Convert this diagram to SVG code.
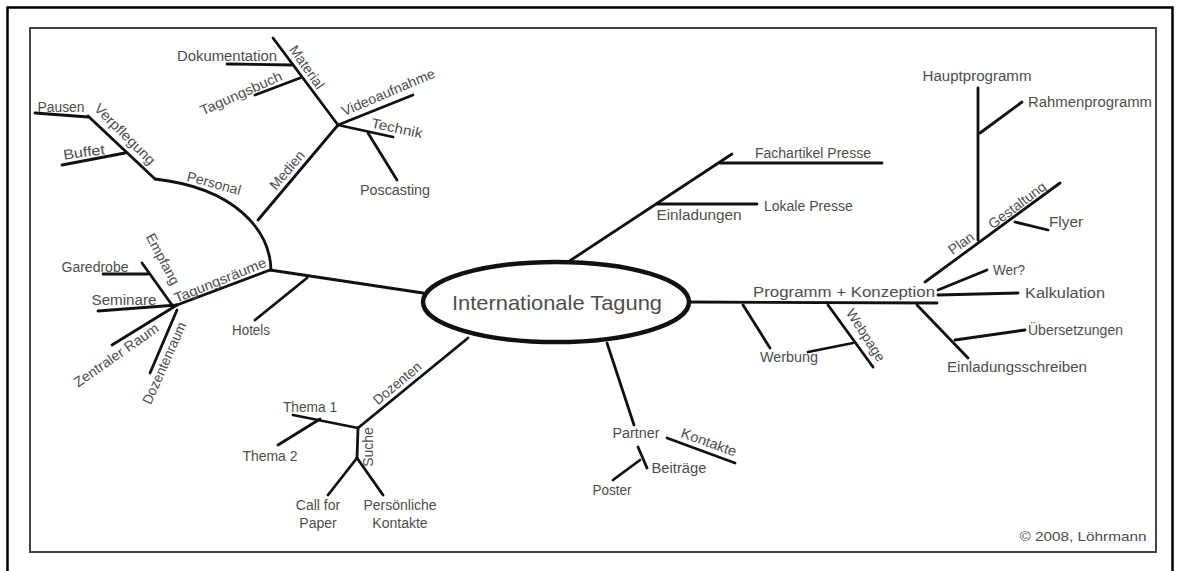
<svg xmlns="http://www.w3.org/2000/svg" width="1179" height="571" viewBox="0 0 1179 571">
<style>
.t{font-family:"Liberation Sans",Arial,sans-serif;font-size:14px;fill:#4d4d4d;text-anchor:middle}
.s{text-anchor:start}
.c{fill:none;stroke:#111;stroke-width:2.8;stroke-linecap:round}
</style>
<rect width="1179" height="571" fill="#fff"/>
<rect x="7.5" y="7.5" width="1165" height="590" fill="none" stroke="#000" stroke-width="2.5"/>
<rect x="30" y="28" width="1126" height="524" fill="none" stroke="#444" stroke-width="2"/>
<g id="connectors">
<path class="c" d="M423,293 L270,270"/>
<path class="c" d="M271,270 C270,230 235,188 155,179"/>
<path class="c" d="M258,220 L338,125"/>
<path class="c" d="M338,125 L273,38"/>
<path class="c" d="M227,64 L292,65"/>
<path class="c" d="M255,95 L300,78"/>
<path class="c" d="M338,125 L413,95"/>
<path class="c" d="M338,125 L393,137"/>
<path class="c" d="M368,133 L397,180"/>
<path class="c" d="M155,179 L88,116"/>
<path class="c" d="M35,113 L88,117"/>
<path class="c" d="M62,165 L125,153"/>
<path class="c" d="M270,270 L177,305"/>
<path class="c" d="M142,263 L172,305"/>
<path class="c" d="M103,274 L148,274"/>
<path class="c" d="M98,311 L177,305"/>
<path class="c" d="M177,305 L112,345"/>
<path class="c" d="M177,310 L150,373"/>
<path class="c" d="M307,278 L255,320"/>
<path class="c" d="M468,338 L358,428"/>
<path class="c" d="M358,428 L293,415"/>
<path class="c" d="M320,419 L278,445"/>
<path class="c" d="M358,428 L357,458"/>
<path class="c" d="M357,458 L328,495"/>
<path class="c" d="M357,458 L383,495"/>
<path class="c" d="M607,343 L634,425"/>
<path class="c" d="M667,438 L735,463"/>
<path class="c" d="M638,447 L647,468"/>
<path class="c" d="M640,460 L613,480"/>
<path class="c" d="M568,262 L732,154"/>
<path class="c" d="M720,163 L882,163"/>
<path class="c" d="M657,204 L757,204"/>
<path class="c" d="M690,302 L937,303"/>
<path class="c" d="M743,305 L770,348"/>
<path class="c" d="M828,305 L873,367"/>
<path class="c" d="M808,352 L853,343"/>
<path class="c" d="M917,305 L968,358"/>
<path class="c" d="M955,340 L1025,330"/>
<path class="c" d="M938,295 L1018,293"/>
<path class="c" d="M938,290 L987,270"/>
<path class="c" d="M925,282 L1060,183"/>
<path class="c" d="M978,240 L978,88"/>
<path class="c" d="M980,133 L1022,102"/>
<path class="c" d="M1015,222 L1048,230"/>
</g>
<g id="center">
<ellipse cx="556" cy="302" rx="133" ry="40" fill="#fff" stroke="#111" stroke-width="4.5"/>
<text class="t" x="557" y="310" style="font-size:21px" textLength="210" lengthAdjust="spacingAndGlyphs">Internationale Tagung</text>
</g>
<g id="n-personal"><text class="t" transform="translate(214,183) rotate(15)" y="5">Personal</text></g>
<g id="n-verpflegung"><text class="t" transform="translate(125,134) rotate(45)" y="5" textLength="80" lengthAdjust="spacingAndGlyphs">Verpflegung</text></g>
<g id="n-pausen"><text class="t" x="61" y="112" textLength="47" lengthAdjust="spacingAndGlyphs">Pausen</text></g>
<g id="n-buffet"><text class="t" transform="translate(84,152) rotate(-8)" y="5" textLength="42" lengthAdjust="spacingAndGlyphs">Buffet</text></g>
<g id="n-medien"><text class="t" transform="translate(287,170) rotate(-50)" y="5">Medien</text></g>
<g id="n-material"><text class="t" transform="translate(307,67) rotate(55)" y="5">Material</text></g>
<g id="n-dokumentation"><text class="t" x="227" y="61" textLength="100" lengthAdjust="spacingAndGlyphs">Dokumentation</text></g>
<g id="n-tagungsbuch"><text class="t" transform="translate(241,93) rotate(-24)" y="5" textLength="88" lengthAdjust="spacingAndGlyphs">Tagungsbuch</text></g>
<g id="n-videoaufnahme"><text class="t" transform="translate(388,92) rotate(-23)" y="5" textLength="100" lengthAdjust="spacingAndGlyphs">Videoaufnahme</text></g>
<g id="n-technik"><text class="t" transform="translate(397,128) rotate(12)" y="5" textLength="52" lengthAdjust="spacingAndGlyphs">Technik</text></g>
<g id="n-poscasting"><text class="t" x="395" y="195" textLength="70" lengthAdjust="spacingAndGlyphs">Poscasting</text></g>
<g id="n-tagungsraeume"><text class="t" transform="translate(220,280) rotate(-22)" y="5" textLength="98" lengthAdjust="spacingAndGlyphs">Tagungsräume</text></g>
<g id="n-empfang"><text class="t" transform="translate(163,259) rotate(62)" y="5">Empfang</text></g>
<g id="n-garedrobe"><text class="t" x="95" y="272">Garedrobe</text></g>
<g id="n-seminare"><text class="t" x="124" y="305" textLength="65" lengthAdjust="spacingAndGlyphs">Seminare</text></g>
<g id="n-zentraler"><text class="t" transform="translate(116,355) rotate(-35)" y="5" textLength="100" lengthAdjust="spacingAndGlyphs">Zentraler Raum</text></g>
<g id="n-dozentenraum"><text class="t" transform="translate(164,363) rotate(-66)" y="5" textLength="88" lengthAdjust="spacingAndGlyphs">Dozentenraum</text></g>
<g id="n-hotels"><text class="t" x="251" y="335" textLength="38" lengthAdjust="spacingAndGlyphs">Hotels</text></g>
<g id="n-dozenten"><text class="t" transform="translate(397,383) rotate(-40)" y="5" textLength="58" lengthAdjust="spacingAndGlyphs">Dozenten</text></g>
<g id="n-thema1"><text class="t" x="310" y="412" textLength="54" lengthAdjust="spacingAndGlyphs">Thema 1</text></g>
<g id="n-thema2"><text class="t" x="270" y="461" textLength="55" lengthAdjust="spacingAndGlyphs">Thema 2</text></g>
<g id="n-suche"><text class="t" transform="translate(368,447) rotate(-90)" y="5">Suche</text></g>
<g id="n-call"><text class="t" x="318" y="510">Call for</text><text class="t" x="318" y="528">Paper</text></g>
<g id="n-persoenliche"><text class="t" x="400" y="510">Persönliche</text><text class="t" x="400" y="528">Kontakte</text></g>
<g id="n-partner"><text class="t" x="636" y="438" textLength="47" lengthAdjust="spacingAndGlyphs">Partner</text></g>
<g id="n-kontakte"><text class="t" transform="translate(709,442) rotate(20)" y="5" textLength="58" lengthAdjust="spacingAndGlyphs">Kontakte</text></g>
<g id="n-beitraege"><text class="t" x="679" y="473" textLength="55" lengthAdjust="spacingAndGlyphs">Beiträge</text></g>
<g id="n-poster"><text class="t" x="612" y="495" textLength="39" lengthAdjust="spacingAndGlyphs">Poster</text></g>
<g id="n-einladungen"><text class="t" x="699" y="220" textLength="85" lengthAdjust="spacingAndGlyphs">Einladungen</text></g>
<g id="n-fachartikel"><text class="t s" x="755" y="158">Fachartikel Presse</text></g>
<g id="n-lokale"><text class="t s" x="764" y="211">Lokale Presse</text></g>
<g id="n-programm"><text class="t" x="844" y="297" textLength="182" lengthAdjust="spacingAndGlyphs">Programm + Konzeption</text></g>
<g id="n-werbung"><text class="t" x="789" y="362" textLength="58" lengthAdjust="spacingAndGlyphs">Werbung</text></g>
<g id="n-webpage"><text class="t" transform="translate(866,335) rotate(57)" y="5">Webpage</text></g>
<g id="n-einladungsschreiben"><text class="t" x="1017" y="372" textLength="140" lengthAdjust="spacingAndGlyphs">Einladungsschreiben</text></g>
<g id="n-uebersetzungen"><text class="t s" x="1028" y="335">Übersetzungen</text></g>
<g id="n-kalkulation"><text class="t" x="1065" y="298" textLength="80" lengthAdjust="spacingAndGlyphs">Kalkulation</text></g>
<g id="n-wer"><text class="t" x="1009" y="275" textLength="32" lengthAdjust="spacingAndGlyphs">Wer?</text></g>
<g id="n-plan"><text class="t" transform="translate(961,243) rotate(-36)" y="5">Plan</text></g>
<g id="n-gestaltung"><text class="t" transform="translate(1017,205) rotate(-37)" y="5" textLength="68" lengthAdjust="spacingAndGlyphs">Gestaltung</text></g>
<g id="n-hauptprogramm"><text class="t" x="977" y="81" textLength="109" lengthAdjust="spacingAndGlyphs">Hauptprogramm</text></g>
<g id="n-rahmenprogramm"><text class="t" x="1090" y="107" textLength="124" lengthAdjust="spacingAndGlyphs">Rahmenprogramm</text></g>
<g id="n-flyer"><text class="t" x="1066" y="227" textLength="34" lengthAdjust="spacingAndGlyphs">Flyer</text></g>
<text class="t" x="1083" y="541" style="font-size:13px" textLength="127" lengthAdjust="spacingAndGlyphs">© 2008, Löhrmann</text>
</svg>
